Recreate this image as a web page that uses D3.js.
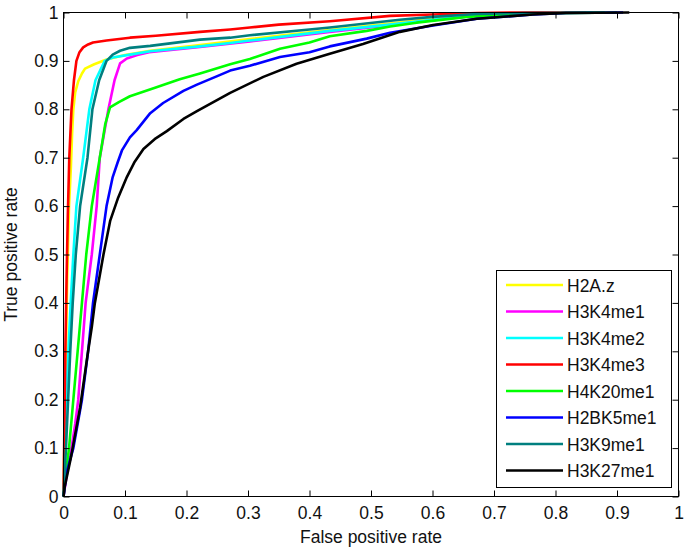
<!DOCTYPE html>
<html>
<head>
<meta charset="utf-8">
<script src="https://cdn.jsdelivr.net/npm/d3@7"></script>
<style>
	body { margin: 0; background: #fff; }
	text { font-family: "Liberation Sans", Arial, sans-serif; fill: #111; }
</style>
</head>
<body>
<div id="fig_roc"></div>
<script>
	// series names (legend order = drawing order)
	var seriesNames = ["H2A.z", "H3K4me1", "H3K4me2", "H3K4me3", "H4K20me1", "H2BK5me1", "H3K9me1", "H3K27me1"]
	var seriesColors = ["#ffff00", "#ff00ff", "#00ffff", "#ff0000", "#00ff00", "#0000ff", "#007f7f", "#000000"]

	// ROC points [false positive rate, true positive rate]
	var h2az = [[0,0],[0.002,0.15],[0.004,0.3],[0.006,0.45],[0.009,0.6],[0.012,0.68],[0.014,0.75],[0.016,0.8],[0.019,0.835],[0.024,0.858],[0.03,0.874],[0.035,0.884],[0.05,0.893],[0.07,0.903],[0.1,0.912],[0.141,0.921],[0.222,0.933],[0.303,0.945],[0.433,0.964],[0.531,0.977],[0.6,0.987],[0.672,0.995],[0.75,0.999],[0.87,1]]
	var h3k4me1 = [[0,0],[0.006,0.05],[0.013,0.1],[0.019,0.15],[0.024,0.2],[0.03,0.3],[0.036,0.4],[0.046,0.5],[0.054,0.6],[0.059,0.7],[0.073,0.8],[0.083,0.86],[0.092,0.895],[0.103,0.905],[0.12,0.912],[0.139,0.918],[0.222,0.929],[0.303,0.94],[0.433,0.96],[0.531,0.974],[0.6,0.984],[0.672,0.994],[0.75,0.999],[0.86,1]]
	var h3k4me2 = [[0,0],[0.002,0.1],[0.004,0.2],[0.008,0.3],[0.0117,0.4],[0.016,0.5],[0.021,0.6],[0.032,0.7],[0.042,0.8],[0.052,0.86],[0.067,0.9],[0.08,0.907],[0.108,0.913],[0.141,0.92],[0.222,0.93],[0.271,0.937],[0.303,0.942],[0.433,0.962],[0.531,0.975],[0.6,0.985],[0.672,0.995],[0.75,0.999],[0.86,1]]
	var h3k4me3 = [[0,0],[0.001,0.1],[0.002,0.2],[0.003,0.3],[0.005,0.45],[0.007,0.58],[0.0094,0.7],[0.013,0.8],[0.017,0.86],[0.021,0.9],[0.026,0.918],[0.032,0.928],[0.04,0.934],[0.048,0.938],[0.07,0.942],[0.108,0.948],[0.15,0.952],[0.222,0.96],[0.271,0.965],[0.303,0.969],[0.35,0.975],[0.433,0.982],[0.531,0.993],[0.6,0.996],[0.672,0.999],[0.75,1],[0.85,1]]
	var h4k20me1 = [[0,0],[0.004,0.05],[0.009,0.1],[0.016,0.2],[0.023,0.3],[0.03,0.4],[0.037,0.5],[0.046,0.6],[0.059,0.7],[0.068,0.77],[0.0756,0.804],[0.09,0.815],[0.108,0.827],[0.15,0.845],[0.189,0.862],[0.222,0.874],[0.271,0.893],[0.303,0.904],[0.352,0.925],[0.4,0.938],[0.433,0.951],[0.493,0.962],[0.531,0.971],[0.574,0.979],[0.656,0.991],[0.763,0.998],[0.9,1]]
	var h2bk5me1 = [[0,0],[0.005,0.05],[0.016,0.1],[0.023,0.15],[0.03,0.2],[0.04,0.3],[0.048,0.4],[0.059,0.5],[0.07,0.6],[0.08,0.66],[0.088,0.69],[0.095,0.715],[0.108,0.742],[0.119,0.757],[0.141,0.792],[0.162,0.813],[0.195,0.838],[0.217,0.851],[0.249,0.868],[0.271,0.88],[0.303,0.89],[0.352,0.908],[0.4,0.918],[0.433,0.93],[0.493,0.946],[0.531,0.958],[0.601,0.973],[0.672,0.987],[0.763,0.996],[0.817,0.999],[0.91,1]]
	var h3k9me1 = [[0,0],[0.004,0.1],[0.0075,0.2],[0.011,0.3],[0.015,0.4],[0.02,0.5],[0.027,0.6],[0.039,0.7],[0.047,0.8],[0.058,0.86],[0.07,0.9],[0.08,0.913],[0.092,0.921],[0.108,0.927],[0.141,0.931],[0.222,0.944],[0.271,0.948],[0.303,0.953],[0.4,0.965],[0.433,0.969],[0.547,0.985],[0.6,0.991],[0.672,0.997],[0.75,0.999],[0.88,1]]
	var h3k27me1 = [[0,0],[0.002,0.02],[0.012,0.08],[0.027,0.184],[0.04,0.3],[0.046,0.35],[0.051,0.4],[0.065,0.5],[0.076,0.57],[0.089,0.618],[0.103,0.66],[0.115,0.69],[0.13,0.718],[0.15,0.74],[0.168,0.755],[0.195,0.78],[0.217,0.796],[0.271,0.834],[0.325,0.867],[0.379,0.894],[0.433,0.915],[0.487,0.935],[0.547,0.96],[0.601,0.974],[0.672,0.987],[0.763,0.996],[0.817,0.999],[0.92,1]]

	var allSeries = [h2az, h3k4me1, h3k4me2, h3k4me3, h4k20me1, h2bk5me1, h3k9me1, h3k27me1]

	// tick values on both axes
	var xTicks = [0, 0.1, 0.2, 0.3, 0.4, 0.5, 0.6, 0.7, 0.8, 0.9, 1]
	var yTicks = [0, 0.1, 0.2, 0.3, 0.4, 0.5, 0.6, 0.7, 0.8, 0.9, 1]

	// set the dimensions of the graph
	var width = 685
	var height = 552
	var plotLeft = 63.5, plotRight = 678.5, plotTop = 12.5, plotBottom = 496.5
	var fontSize = 17.5

	var svg = d3.select("#fig_roc")
		.append("svg")
		.attr("width", width)
		.attr("height", height)

	var x = d3.scaleLinear().domain([0, 1]).range([plotLeft, plotRight])
	var y = d3.scaleLinear().domain([0, 1]).range([plotBottom, plotTop])

	var fmt = function(d) { return String(+d.toFixed(1)) }

	// the curves
	var line = d3.line()
		.x(function(d) { return x(d[0]) })
		.y(function(d) { return y(d[1]) })

	svg.selectAll("path.roc")
		.data(allSeries)
		.enter()
		.append("path")
		.attr("class", "roc")
		.attr("d", line)
		.attr("fill", "none")
		.attr("stroke", function(d, i) { return seriesColors[i] })
		.attr("stroke-width", 2.6)
		.attr("stroke-linejoin", "round")

	// axes, ticks pointing inwards on all four sides
	function styleAxis(g) {
		g.select(".domain").remove()
		g.selectAll(".tick line").attr("stroke", "#000")
		g.selectAll("text").style("font-size", fontSize + "px").attr("fill", "#111")
	}

	svg.append("g")
		.attr("transform", "translate(0," + plotBottom + ")")
		.call(d3.axisBottom(x).tickValues(xTicks).tickFormat(fmt).tickSize(-6).tickPadding(10))
		.call(styleAxis)

	svg.append("g")
		.attr("transform", "translate(0," + plotTop + ")")
		.call(d3.axisTop(x).tickValues(xTicks).tickFormat("").tickSize(-6))
		.call(styleAxis)

	svg.append("g")
		.attr("transform", "translate(" + plotLeft + ",0)")
		.call(d3.axisLeft(y).tickValues(yTicks).tickFormat(fmt).tickSize(-6).tickPadding(5))
		.call(styleAxis)

	svg.append("g")
		.attr("transform", "translate(" + plotRight + ",0)")
		.call(d3.axisRight(y).tickValues(yTicks).tickFormat("").tickSize(-6))
		.call(styleAxis)

	// box round the plot
	svg.append("rect")
		.attr("x", plotLeft)
		.attr("y", plotTop)
		.attr("width", plotRight - plotLeft)
		.attr("height", plotBottom - plotTop)
		.attr("fill", "none")
		.attr("stroke", "#000")

	// axis labels
	svg.append("text")
		.text("False positive rate")
		.attr("x", (plotLeft + plotRight) / 2)
		.attr("y", 543)
		.style("text-anchor", "middle")
		.style("font-size", fontSize + "px")

	svg.append("text")
		.text("True positive rate")
		.attr("transform", "translate(17," + (plotTop + plotBottom) / 2 + ") rotate(-90)")
		.style("text-anchor", "middle")
		.style("font-size", fontSize + "px")

	// legend
	var legend = svg.append("g")
	legend.append("rect")
		.attr("x", 496.5)
		.attr("y", 270.5)
		.attr("width", 175)
		.attr("height", 217)
		.attr("fill", "#fff")
		.attr("stroke", "#000")

	var entry = legend.selectAll("g.entry")
		.data(seriesNames)
		.enter()
		.append("g")
		.attr("class", "entry")
		.attr("transform", function(d, i) { return "translate(0," + (285 + i * 26.5) + ")" })

	entry.append("line")
		.attr("x1", 506)
		.attr("x2", 563)
		.attr("stroke", function(d, i) { return seriesColors[i] })
		.attr("stroke-width", 2.6)

	entry.append("text")
		.text(function(d) { return d })
		.attr("x", 567)
		.attr("y", 6.5)
		.style("font-size", fontSize + "px")
</script>
</body>
</html>
